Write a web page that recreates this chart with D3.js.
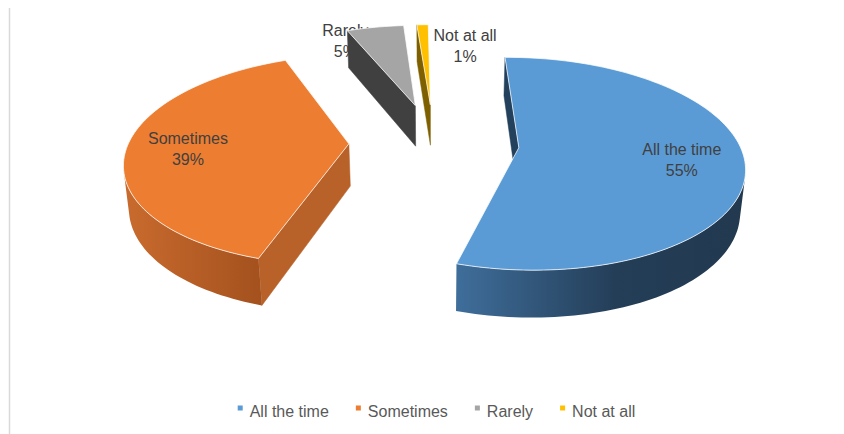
<!DOCTYPE html>
<html><head><meta charset="utf-8">
<script src="https://cdn.jsdelivr.net/npm/d3@7"></script>
<style>body{margin:0;background:#fff;}svg{display:block;font-family:"Liberation Sans",Arial,sans-serif;}</style>
</head><body>
<script>
// ---- data ----
const categories = ["All the time", "Sometimes", "Rarely", "Not at all"];
const values = [55, 39, 5, 1];
const pctLabels = ["55%", "39%", "5%", "1%"];

// ---- styles ----
const topColors = ["#5B9BD5", "#ED7D31", "#A5A5A5", "#FFC000"];
const cutColors = ["#23405C", "#B8622A", "#404040", "#7F6000"];
const wallStops = [
  [[0, "#3F6E9B"], [0.55, "#243E58"], [1, "#22394F"]],
  [[0, "#C96B2E"], [1, "#A4511E"]],
  [[0, "#7A7A7A"], [1, "#555555"]],
  [[0, "#BF9000"], [1, "#7F6000"]]
];

const W = 844, H = 434;
const PHI = 27.7 * Math.PI / 180, F = 1300, CX = 434, CY = 142;
const R = 220, DEPTH = 48.5, EXPL = 85;
const ROT = -0.8 * Math.PI / 180;   // first slice angle
const cphi = Math.cos(PHI), sphi = Math.sin(PHI);

function proj(X, Y, Z) {
  const yc = Y * cphi + Z * sphi;
  const zc = Z * cphi - Y * sphi + F;
  return [CX + F * X / zc, CY - F * yc / zc, zc];
}
function area(p) {
  let s = 0;
  for (let i = 0; i < p.length; i++) {
    const a = p[i], b = p[(i + 1) % p.length];
    s += a[0] * b[1] - b[0] * a[1];
  }
  return s;
}
const line = d3.line();
const poly = pts => line(pts.map(p => [p[0], p[1]])) + "Z";

const svg = d3.select("body").append("svg").attr("width", W).attr("height", H);
const defs = svg.append("defs");

// chart border on left
svg.append("line").attr("x1", 9.5).attr("x2", 9.5).attr("y1", 8).attr("y2", H)
  .attr("stroke", "#D9D9D9").attr("stroke-width", 1.5);

const arcs = d3.pie().sort(null).value(d => d)
  .startAngle(ROT).endAngle(ROT + 2 * Math.PI)(values);
const totalVal = d3.sum(values);

const slices = arcs.map((d, i) => {
  const a0 = d.startAngle, a1 = d.endAngle, mid = (a0 + a1) / 2;
  const ox = EXPL * Math.sin(mid), oz = EXPL * Math.cos(mid);
  const pt = (a, r, Y, dz = 0) => proj(ox + r * Math.sin(a), Y, oz + r * Math.cos(a) + dz);
  const n = Math.max(2, Math.ceil((a1 - a0) / (Math.PI / 120)));
  const angs = d3.range(n + 1).map(k => a0 + (a1 - a0) * k / n);
  const tops = angs.map(a => pt(a, R, 0));
  const bots = angs.map(a => pt(a, R, -DEPTH));
  const apexT = pt(0, 0, 0), apexB = pt(0, 0, -DEPTH);
  const small = d.value / totalVal < 0.1;
  return { d, i, a0, a1, mid, pt, tops, bots, apexT, apexB, small };
});

function drawLabel(s) {
  const g = svg.append("g").attr("class", "lbl").attr("fill", "#404040").attr("font-size", 16);
  let x, y, anchor = "middle";
  if (!s.small) {
    const p = s.pt(s.mid, 0.72 * R, 0, -6);
    x = p[0]; y = p[1] - 6;
  } else {
    const p = s.pt(s.mid, R, 0);
    if (s.i === values.length - 1) { x = p[0] + 11; anchor = "start"; y = p[1] + 16; }
    else { const c = s.tops[0]; x = c[0] - 2; y = p[1] + 9; }
  }
  const t1 = g.append("text").attr("x", x).attr("y", y).attr("text-anchor", anchor).text(categories[s.i]);
  const w = t1.node().getComputedTextLength();
  g.append("text").attr("x", anchor === "start" ? x + w / 2 : x).attr("y", y + 21)
    .attr("text-anchor", "middle").text(pctLabels[s.i]);
  return g;
}

// draw slices far to near
const order = slices.slice().sort((a, b) => b.apexT[2] - a.apexT[2]);
order.forEach(s => {
  // label of an inner small slice sits behind the slice
  if (s.small && s.i !== values.length - 1) drawLabel(s);
  const g = svg.append("g");
  const start = [s.apexT, s.tops[0], s.bots[0], s.apexB];
  const end = [s.apexT, s.apexB, s.bots[s.bots.length - 1], s.tops[s.tops.length - 1]];
  [start, end].forEach(f => {
    if (area(f) < 0) g.append("path").attr("d", poly(f)).attr("fill", cutColors[s.i])
      .attr("stroke", cutColors[s.i]).attr("stroke-width", 0.5);
  });
  const runs = [];
  let cur = null;
  for (let k = 0; k < s.tops.length - 1; k++) {
    const q = [s.tops[k], s.tops[k + 1], s.bots[k + 1], s.bots[k]];
    if (area(q) < 0) { if (!cur) { cur = [k]; runs.push(cur); } cur[1] = k + 1; }
    else cur = null;
  }
  runs.forEach((r, ri) => {
    const t = s.tops.slice(r[0], r[1] + 1), b = s.bots.slice(r[0], r[1] + 1).reverse();
    const pts = t.concat(b);
    const xs = pts.map(p => p[0]);
    const id = "wall" + s.i + "_" + ri;
    const gr = defs.append("linearGradient").attr("id", id).attr("gradientUnits", "userSpaceOnUse")
      .attr("x1", d3.min(xs)).attr("x2", d3.max(xs)).attr("y1", 0).attr("y2", 0);
    wallStops[s.i].forEach(st => gr.append("stop").attr("offset", st[0]).attr("stop-color", st[1]));
    g.append("path").attr("d", poly(pts)).attr("fill", `url(#${id})`);
  });
  const topPts = [s.apexT].concat(s.tops);
  g.append("path").attr("d", poly(topPts)).attr("fill", topColors[s.i])
    .attr("stroke", "rgba(255,255,255,0.75)").attr("stroke-width", 1).attr("stroke-linejoin", "round");
});
slices.forEach(s => { if (!(s.small && s.i !== values.length - 1)) drawLabel(s); });

// legend
const leg = svg.append("g").attr("font-size", 16).attr("fill", "#595959");
let lx = 0;
categories.forEach((c, i) => {
  const g = leg.append("g").attr("transform", `translate(${lx},0)`);
  g.append("rect").attr("x", 0).attr("y", -5.5).attr("width", 5).attr("height", 5).attr("fill", topColors[i]);
  const t = g.append("text").attr("x", 12).attr("y", 0).attr("dy", "0.35em").text(c);
  lx += 12 + t.node().getComputedTextLength() + 27;
});
const total = lx - 27;
leg.attr("transform", `translate(${(436.5 - total / 2).toFixed(1)},411)`);
</script>
</body></html>
